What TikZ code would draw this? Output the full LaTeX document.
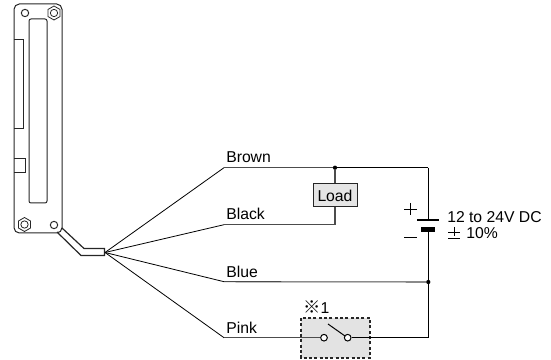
\documentclass[tikz,border=0pt]{standalone}
\usepackage{fontspec}
\usetikzlibrary{shapes.geometric}
\setmainfont{Liberation Sans}
\newfontfamily\symfont{Noto Sans CJK JP}
\tikzset{
  wire/.style={draw=black!70,line width=0.8pt},
  thinwire/.style={draw=black,line width=0.6pt},
  kwire/.style={draw=black,line width=0.75pt},
  part/.style={draw=black!85,line width=0.75pt},
  lab/.style={font=\fontsize{11.8pt}{12pt}\selectfont,inner sep=0pt,anchor=base west},
  dotn/.style={circle,fill=black,inner sep=0pt,minimum size=3.2pt},
  contact/.style={circle,draw=black,line width=0.75pt,fill=white,inner sep=0pt,minimum size=5pt},
}
\begin{document}
\begin{tikzpicture}[x=0.75pt,y=-0.75pt]
\useasboundingbox (0,0) rectangle (551,360);
% sensor body
\draw[part,rounded corners=4pt] (14,4) rectangle (62,233);
\draw[part,rounded corners=1.5pt] (29,19) rectangle (47,203);
\draw[part] (14,40) -- (23,40) -- (23,129) -- (14,129);
\draw[part] (14,159) -- (25,159) -- (25,173) -- (14,173);
\node[part,draw,circle,inner sep=0pt,minimum size=5.5pt] (h1) at (25,13) {};
\node[part,draw,circle,inner sep=0pt,minimum size=5.5pt] (h2) at (54,225) {};
\foreach \n/\cx/\cy in {a/54/13,b/24.5/224.5}{
  \node[part,draw,regular polygon,regular polygon sides=6,shape border rotate=30,inner sep=0pt,minimum size=10.5pt,line width=0.6pt] (hex\n) at (\cx,\cy) {};
  \node[part,draw,circle,inner sep=0pt,minimum size=5.5pt,line width=0.6pt] (c\n) at (\cx,\cy) {};
}
% cable
\coordinate (hub) at (105,252.5);
\draw[part,line width=0.9pt] (57,232) -- (81,255.5) -- (104.5,255.5) -- (104.5,248.5) -- (84,248.5) -- (62,228);
% nodes
\coordinate (brownE) at (224,167.7);
\coordinate (blackE) at (224,224.7);
\coordinate (blueE) at (224,281.7);
\coordinate (pinkE) at (224,337.7);
\coordinate (right) at (428.3,167.7);
\coordinate (rbot) at (428.3,337.7);
\coordinate (loadB) at (335,224.7);
\node[dotn] (top) at (335,167.7) {};
\node[dotn] (mid) at (428.3,282) {};
\node[draw=black!85,line width=0.75pt,fill=black!10,inner sep=0pt,minimum width=33pt,minimum height=17.25pt,font=\fontsize{11.8pt}{12pt}\selectfont] (load) at (335,195.5) {Load};
% wires
\draw[thinwire] (hub) -- (brownE);
\draw[wire] (brownE) -- (top);
\draw[kwire] (top) -- (right);
\draw[thinwire] (hub) -- (blackE);
\draw[wire] (blackE) -- (loadB) -- (load.south);
\draw[wire] (top) -- (load.north);
\draw[thinwire] (hub) -- (blueE);
\draw[wire] (blueE) -- (mid);
% battery
\coordinate (batP) at (428.3,220);
\coordinate (batN) at (428.3,229.5);
\draw[kwire] (right) -- (batP);
\draw[kwire] (batN) -- (mid);
\draw[kwire] (mid) -- (rbot);
\draw[black,line width=1.1pt] (417,220) -- (439,220);
\draw[black,line width=3.6pt] (421,229.5) -- (435,229.5);
% switch
\fill[black!11] (301,318) rectangle (370,358);
\draw[black!85,line width=0.8pt,dash pattern=on 2.2pt off 1.8pt] (301,318) rectangle (370,358);
\node[contact] (sw1) at (324,337.7) {};
\node[contact] (sw2) at (347.7,337.7) {};
\draw[thinwire] (hub) -- (pinkE);
\draw[wire] (pinkE) -- (sw1);
\draw[kwire] (sw2) -- (rbot);
\draw[black,line width=0.75pt] (328,324) -- (345,336);
% labels
\node[lab] (tb) at (226,163) {Brown};
\node[lab] (tk) at (226,220) {Black};
\node[lab] (tu) at (226,277) {Blue};
\node[lab] (tp) at (226,334) {Pink};
\node[lab] (t1) at (447,223) {12 to 24V DC};
\node[lab] (t2) at (466,239) {10\%};
\node[lab] (tx) at (303,313.5) {{\symfont\fontsize{13pt}{13pt}\selectfont ※}1};
\draw[black,line width=0.6pt] (404,209) -- (417,209) (410.5,203) -- (410.5,215);
\draw[black,line width=0.6pt] (404,237) -- (417,237);
\draw[black,line width=0.6pt] (448,232) -- (460,232) (454,227) -- (454,236) (448,238) -- (460,238);
\end{tikzpicture}
\end{document}
